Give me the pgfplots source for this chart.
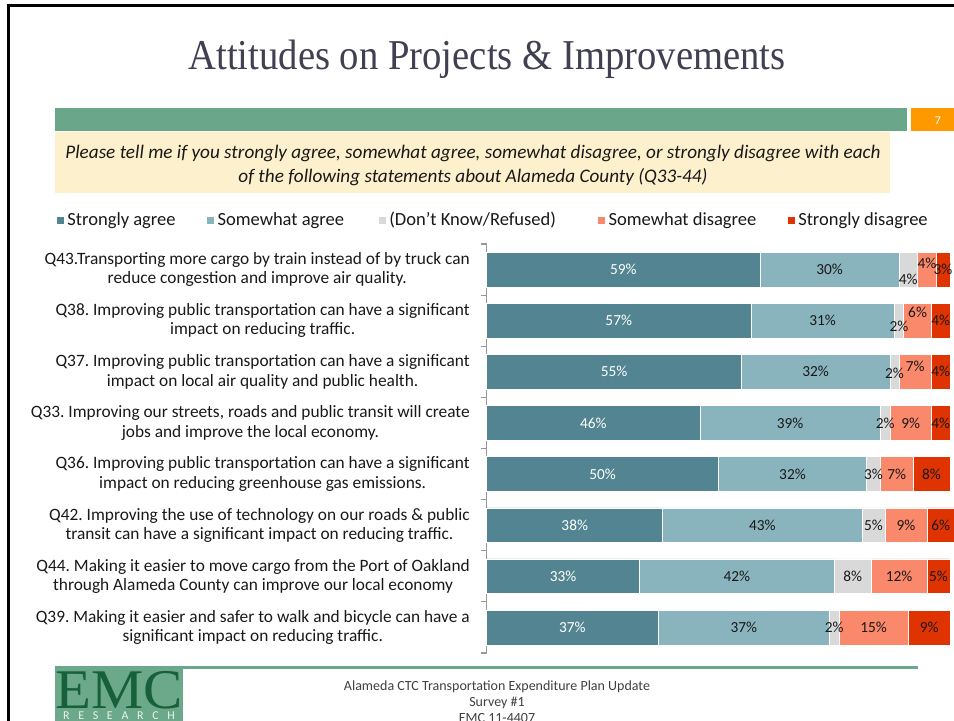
\documentclass[border=0pt]{standalone}
\usepackage{fontspec}
\setmainfont{Carlito}
\newfontfamily\titlefont{Liberation Serif}
\usepackage{pgfplots}
\usepackage{pgfplotstable}
\pgfplotsset{compat=1.18}
\frenchspacing

\definecolor{sagree}{RGB}{82,133,145}
\definecolor{swagree}{RGB}{138,180,189}
\definecolor{dkref}{RGB}{217,217,217}
\definecolor{swdis}{RGB}{250,136,106}
\definecolor{sdis}{RGB}{223,51,2}
\definecolor{bandgreen}{RGB}{106,166,138}
\definecolor{cream}{RGB}{253,240,204}
\definecolor{pageorange}{RGB}{255,153,0}
\definecolor{titlegray}{RGB}{64,64,82}
\definecolor{logogreen}{RGB}{108,168,138}
\definecolor{logodark}{RGB}{22,96,58}
\definecolor{txt}{RGB}{25,25,25}

% row 1 = top bar; percentages; dkdy/swddy = label offsets (pt)
\pgfplotstableread{
y sa swa dk swd sd dkdy swddy zero
1 59 30 4 4 3 -7 5 0
2 57 31 2 6 4 -4 6 0
3 55 32 2 7 4 -1 4 0
4 46 39 2 9 4 0 0 0
5 50 32 3 7 8 0 0 0
6 38 43 5 9 6 0 0 0
7 33 42 8 12 5 0 0 0
8 37 37 2 15 9 0 0 0
}\survey

\begin{document}
\begin{tikzpicture}
\path[use as bounding box] (0pt,0pt) rectangle (715.5pt,-540.75pt);
\clip (0pt,0pt) rectangle (715.5pt,-540.75pt);
\begin{scope}[x=0.75pt,y=-0.75pt]
  \fill[white] (0,0) rectangle (954,721);
  % slide frame
  \fill[black] (7,4) rectangle (954,7);
  \fill[black] (7,4) rectangle (10,721);
  % title
  \node[anchor=base, text=titlegray, font=\titlefont\fontsize{29}{32}\selectfont]
    at (487,69) {\scalebox{1}[1.1]{Attitudes on Projects \& Improvements}};
  % header band
  \fill[bandgreen] (55,108) rectangle (907,131);
  \fill[pageorange] (911,108) rectangle (954,131);
  \node[text=white, font=\fontsize{9}{10}\selectfont] at (938,121) {7};
  \fill[cream] (55,132) rectangle (890,193);
  \node[anchor=base, text=txt, font=\itshape\fontsize{14.4}{18}\selectfont] at (473,158)
    {Please tell me if you strongly agree, somewhat agree, somewhat disagree, or strongly disagree with each};
  \node[anchor=base, text=txt, font=\itshape\fontsize{14.4}{18}\selectfont] at (473,182)
    {of the following statements about Alameda County (Q33-44)};
  % footer
  \fill[bandgreen] (55,666) rectangle (918,669);
  \fill[logogreen] (55,667) rectangle (183,721);
  \node[anchor=base, text=logodark, font=\titlefont\fontsize{42}{44}\selectfont]
    at (119,708) {\scalebox{1.05}[1]{EMC}};
  \node[anchor=base, text=white!85!logogreen, font=\fontsize{9}{10}\selectfont]
    at (119,719) {R\hspace{6.5pt}E\hspace{6.5pt}S\hspace{6.5pt}E\hspace{6.5pt}A\hspace{6.5pt}R\hspace{6.5pt}C\hspace{6.5pt}H};
  \node[anchor=base, text=black!75, font=\fontsize{10.5}{12}\selectfont] at (497,690)
    {Alameda CTC Transportation Expenditure Plan Update};
  \node[anchor=base, text=black!75, font=\fontsize{10.5}{12}\selectfont] at (497,706) {Survey \#1};
  \node[anchor=base, text=black!75, font=\fontsize{10.5}{12}\selectfont] at (497,722) {EMC 11-4407};
\end{scope}

\begin{axis}[
  at={(365.025pt,-489.75pt)}, anchor=south west,
  scale only axis, width=347.5pt, height=306.75pt,
  xbar stacked, bar width=26pt,
  xmin=0, xmax=100, ymin=0.5, ymax=8.5, y dir=reverse,
  axis x line=none, axis y line*=left,
  y axis line style={-, draw=gray!80, line width=0.8pt},
  ytick={1,...,8}, major tick length=0pt,
  minor ytick={0.5,1.5,...,8.5}, minor tick length=4pt, tick align=outside,
  every minor tick/.style={draw=gray!80, line width=0.8pt},
  yticklabels={
    {Q43.Transporting more cargo by train instead of by truck can\\reduce congestion and improve air quality.},
    {Q38. Improving public transportation can have a significant\\impact on reducing traffic.},
    {Q37. Improving public transportation can have a significant\\impact on local air quality and public health.},
    {Q33. Improving our streets, roads and public transit will create\\jobs and improve the local economy.},
    {Q36. Improving public transportation can have a significant\\impact on reducing greenhouse gas emissions.},
    {Q42. Improving the use of technology on our roads \& public\\transit can have a significant impact on reducing traffic.},
    {Q44. Making it easier to move cargo from the Port of Oakland\\through Alameda County can improve our local economy},
    {Q39. Making it easier and safer to walk and bicycle can have a\\significant impact on reducing traffic.}},
  yticklabel style={align=center, text=txt, font=\fontsize{13}{14.5}\selectfont, inner sep=0pt, xshift=-12.5pt},
  clip=false,
  point meta=explicit,
  nodes near coords={\pgfmathprintnumber[assume math mode=true]{\pgfplotspointmeta}\%},
  every node near coord/.append style={anchor=center, text=txt, font=\fontsize{11.5}{13}\selectfont,
    yshift=\dy*1pt},
  legend image code/.code={\fill[#1] (0pt,-3pt) rectangle (6pt,3pt);},
  legend columns=5,
  legend style={at={(-0.9296,1.0587)}, anchor=west, draw=none, fill=none, inner sep=0pt,
    font=\fontsize{13.9}{16}\selectfont, text=txt,
    /tikz/every even column/.append style={column sep=21pt}},
]
\addplot[fill=sagree, draw=white, line width=0.4pt,
  visualization depends on={\thisrow{zero} \as \dy},
  nodes near coords style={text=white}]
  table[x=sa, y=y, meta=sa] {\survey};
\addlegendentry{Strongly agree}
\addplot[fill=swagree, draw=white, line width=0.4pt,
  visualization depends on={\thisrow{zero} \as \dy}]
  table[x=swa, y=y, meta=swa] {\survey};
\addlegendentry{Somewhat agree\rule{2.5pt}{0pt}}
\addplot[fill=dkref, draw=white, line width=0.4pt,
  visualization depends on={\thisrow{dkdy} \as \dy}]
  table[x=dk, y=y, meta=dk] {\survey};
\addlegendentry{(Don't Know/Refused)\rule{8pt}{0pt}}
\addplot[fill=swdis, draw=white, line width=0.4pt,
  visualization depends on={\thisrow{swddy} \as \dy}]
  table[x=swd, y=y, meta=swd] {\survey};
\addlegendentry{Somewhat disagree}
\addplot[fill=sdis, draw=white, line width=0.4pt,
  visualization depends on={\thisrow{zero} \as \dy}]
  table[x=sd, y=y, meta=sd] {\survey};
\addlegendentry{Strongly disagree}
\end{axis}
\end{tikzpicture}
\end{document}
